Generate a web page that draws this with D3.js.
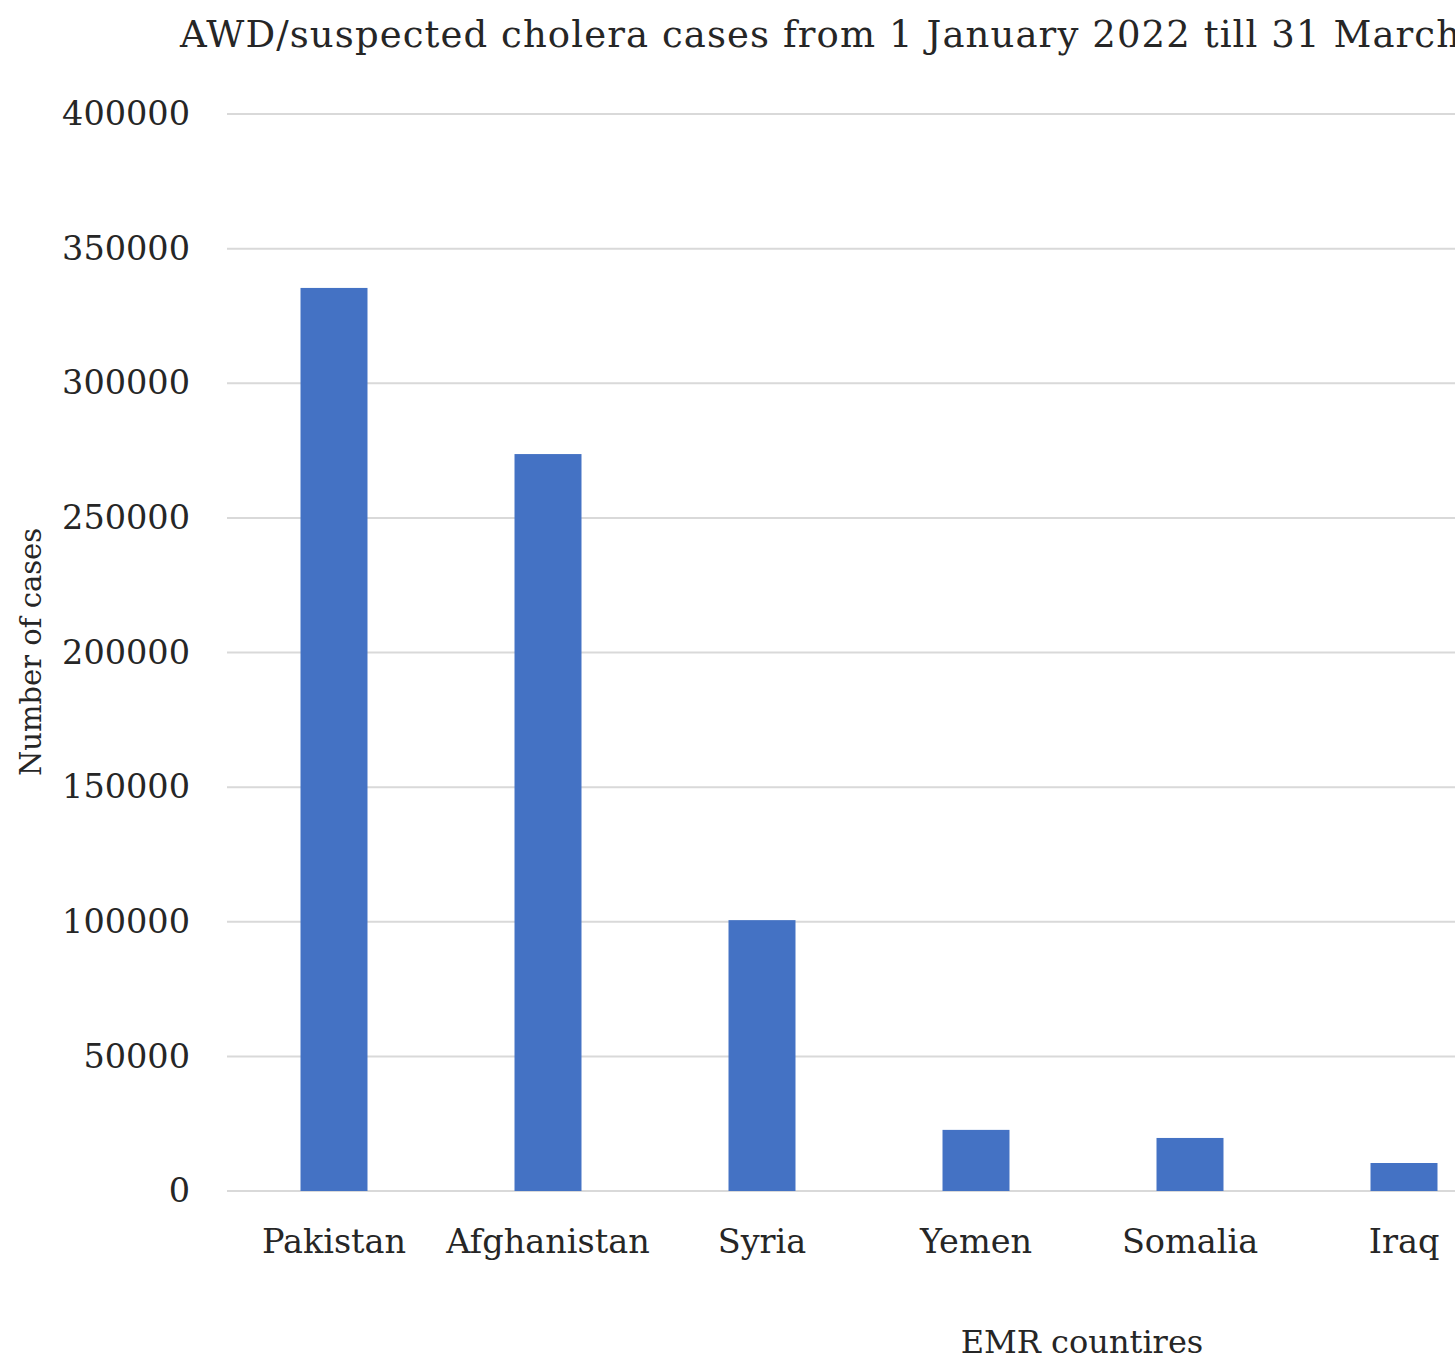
<!DOCTYPE html>
<html>
<head>
<meta charset="utf-8">
<script src="https://cdn.jsdelivr.net/npm/d3@7"></script>
<style>
  body { margin: 0; background: #fff; }
  svg { display: block; }
</style>
</head>
<body>
<div id="chart"></div>
<script>
const countries = ["Pakistan", "Afghanistan", "Syria", "Yemen", "Somalia", "Iraq"]
const cases = [335400, 273700, 100600, 22700, 19700, 10400]
const yTicks = [0, 50000, 100000, 150000, 200000, 250000, 300000, 350000, 400000]

const svgWidth = 1455, svgHeight = 1362
const margin = {left: 227, top: 114}
const width = 1284, height = 1077

let svg = d3.select('#chart')
    .append('svg')
    .attr('width', svgWidth)
    .attr('height', svgHeight)

let chart = svg.append('g')
    .attr("transform", "translate(" + margin.left + "," + margin.top + ")")

let xScale = d3.scaleBand()
    .domain(countries)
    .range([0, width])
    .paddingInner(0.687)
    .paddingOuter(0.3435)

let yScale = d3.scaleLinear()
    .domain([0, 400000])
    .range([height, 0])

// gridlines
chart.append("g")
    .selectAll("line")
    .data(yTicks)
    .join("line")
    .attr("x1", 0)
    .attr("x2", width)
    .attr("y1", d => yScale(d))
    .attr("y2", d => yScale(d))
    .attr("stroke", "#d9d9d9")
    .attr("stroke-width", 2)

// y axis labels
let yAxis = chart.append("g")
    .call(d3.axisLeft(yScale).tickValues(yTicks).tickSize(0).tickPadding(37).tickFormat(d => d))
yAxis.select(".domain").remove()
yAxis.selectAll("text")
    .attr("font-family", "DejaVu Serif")
    .attr("font-size", 33.5)
    .attr("fill", "#262626")

// bars
chart.append("g")
    .selectAll("rect")
    .data(countries)
    .join("rect")
    .attr("x", d => xScale(d))
    .attr("width", xScale.bandwidth())
    .attr("y", (d, i) => yScale(cases[i]))
    .attr("height", (d, i) => height - yScale(cases[i]))
    .attr("fill", "#4472c4")

// x axis labels
let xAxis = chart.append("g")
    .attr("transform", `translate(0,${height})`)
    .call(d3.axisBottom(xScale).tickSize(0).tickPadding(38))
xAxis.select(".domain").remove()
xAxis.selectAll("text")
    .attr("font-family", "DejaVu Serif")
    .attr("font-size", 33.5)
    .attr("fill", "#262626")

// title (runs past the right edge, like the original)
svg.append("text")
    .attr("x", 180)
    .attr("y", 47)
    .attr("font-family", "DejaVu Serif")
    .attr("font-size", 37)
    .attr("letter-spacing", 1.1)
    .attr("fill", "#262626")
    .text("AWD/suspected cholera cases from 1 January 2022 till 31 March 2023")

// axis titles
svg.append("text")
    .attr("x", 1082)
    .attr("y", 1353)
    .attr("text-anchor", "middle")
    .attr("font-family", "DejaVu Serif")
    .attr("font-size", 32)
    .attr("fill", "#262626")
    .text("EMR countires")

svg.append("text")
    .attr("transform", "translate(41,652) rotate(-90)")
    .attr("text-anchor", "middle")
    .attr("font-family", "DejaVu Serif")
    .attr("font-size", 29)
    .attr("fill", "#262626")
    .text("Number of cases")
</script>
</body>
</html>
